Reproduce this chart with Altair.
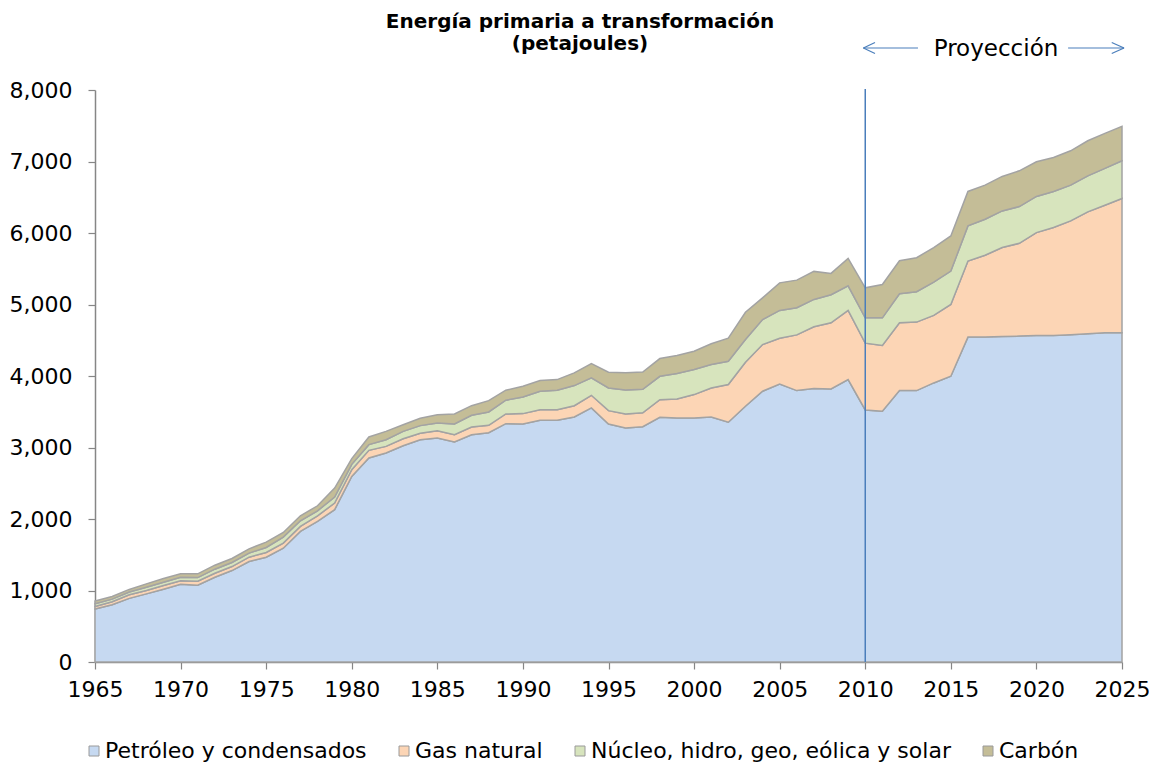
import altair as alt
import pandas as pd

# ---------------- data ----------------
years = list(range(1965, 2026))

petroleo = [
    740, 800, 890, 953, 1018, 1088, 1074, 1186, 1279, 1405,
    1466, 1592, 1826, 1966, 2130, 2596, 2854, 2923, 3025, 3109,
    3133, 3077, 3179, 3207, 3333, 3329, 3380, 3380, 3427, 3553,
    3329, 3273, 3290, 3422, 3413, 3413, 3427, 3353, 3577, 3787,
    3889, 3796, 3824, 3819, 3950, 3525, 3507, 3796, 3796, 3903,
    3997, 4544, 4544, 4553, 4558, 4567, 4567, 4577, 4591, 4605,
    4605,
]
gas_natural = [
    37, 42, 50, 46, 51, 47, 56, 56, 56, 61,
    66, 71, 70, 79, 93, 94, 106, 93, 98, 90,
    102, 102, 108, 103, 136, 145, 149, 149, 158, 177,
    186, 196, 195, 247, 266, 327, 406, 527, 616, 653,
    640, 779, 864, 925, 967, 934, 919, 948, 958, 944,
    1004, 1064, 1144, 1243, 1298, 1439, 1509, 1592, 1704, 1784,
    1878,
]
nucleo = [
    38, 37, 38, 47, 47, 51, 51, 56, 57, 57,
    70, 84, 79, 70, 85, 75, 80, 93, 103, 107,
    108, 150, 163, 187, 192, 233, 257, 272, 281, 243,
    318, 336, 330, 327, 355, 350, 327, 327, 317, 350,
    388, 379, 383, 392, 344, 354, 387, 406, 424, 467,
    467, 491, 505, 513, 514, 505, 505, 500, 505, 514,
    527,
]
carbon = [
    37, 37, 37, 47, 51, 47, 52, 56, 56, 60,
    75, 65, 70, 70, 125, 79, 108, 117, 93, 103,
    116, 140, 135, 159, 140, 150, 150, 149, 178, 201,
    220, 239, 240, 248, 252, 257, 290, 322, 382, 303,
    386, 387, 392, 299, 384, 420, 467, 462, 477, 481,
    491, 482, 476, 482, 500, 485, 476, 481, 490, 490,
    481,
]

series_names = [
    "Petróleo y condensados",
    "Gas natural",
    "Núcleo, hidro, geo, eólica y solar",
    "Carbón",
]
series_colors = ["#C6D9F1", "#FCD5B5", "#D7E4BD", "#C4BD97"]

x_ticks = list(range(1965, 2026, 5))
y_ticks = list(range(0, 8001, 1000))

# annotation ("Proyección" arrows), x in years
shaft_start = [2009.89, 2021.85]
shaft_end = [2013.08, 2025.12]
head_tip = [2009.89, 2025.12]
head_back = [2010.57, 2024.40]

title_lines = ["Energía primaria a transformación", "(petajoules)"]
proj_label = "Proyección"
proj_year = [2010]

# ---------------- build ----------------
rows = []
for i, (name, vals) in enumerate(zip(series_names, [petroleo, gas_natural, nucleo, carbon])):
    for yr, v in zip(years, vals):
        rows.append({"year": yr, "value": v, "serie": name, "orden": i})
df = pd.DataFrame(rows)

W, H = 1027, 572
FONT = "DejaVu Sans"
AXIS_COLOR = "#868686"
BLUE = "#4A7EBB"

x_scale = alt.Scale(domain=[1965, 2025], nice=False, zero=False)
y_scale = alt.Scale(domain=[0, 8000], nice=False)

area = alt.Chart(df).mark_area(
    stroke="#A3A3A3", strokeWidth=1.5, opacity=1, interpolate="linear"
).encode(
    x=alt.X(
        "year:Q",
        scale=x_scale,
        axis=alt.Axis(
            values=x_ticks, format="d", title=None, grid=False,
            labelFontSize=22, labelPadding=10, tickSize=7,
            labelFlush=False, labelOverlap=False,
        ),
    ),
    y=alt.Y(
        "value:Q",
        stack="zero",
        scale=y_scale,
        axis=alt.Axis(
            values=y_ticks, format=",d", title=None, grid=False,
            labelFontSize=22, labelPadding=16, tickSize=7,
            labelFlush=False, labelOverlap=False,
        ),
    ),
    color=alt.Color(
        "serie:N",
        scale=alt.Scale(domain=series_names, range=series_colors),
        sort=series_names,
        legend=alt.Legend(
            title=None,
            orient="none",
            direction="horizontal",
            legendX=-12,
            legendY=650,
            symbolType="square",
            symbolSize=100,
            symbolStrokeColor="#9A9A9A",
            symbolStrokeWidth=1,
            symbolOpacity=1,
            labelFont=FONT,
            labelFontSize=22,
            labelColor="#000000",
            labelOffset=0,
            labelLimit=600,
            columnPadding=26,
            padding=0,
        ),
    ),
    order=alt.Order("orden:Q"),
)

vline = alt.Chart(pd.DataFrame({"year": proj_year})).mark_rule(
    color=BLUE, strokeWidth=1.5
).encode(
    x=alt.X("year:Q", scale=x_scale),
    y=alt.value(-1),
    y2=alt.value(H),
)

shafts = alt.Chart(pd.DataFrame({"a": shaft_start, "b": shaft_end})).mark_rule(
    color=BLUE, strokeWidth=1.2
).encode(
    x=alt.X("a:Q", scale=x_scale),
    x2="b:Q",
    y=alt.value(-42),
    y2=alt.value(-42),
)

heads_up = alt.Chart(pd.DataFrame({"a": head_tip, "b": head_back})).mark_rule(
    color=BLUE, strokeWidth=1.2
).encode(
    x=alt.X("a:Q", scale=x_scale),
    x2="b:Q",
    y=alt.value(-42),
    y2=alt.value(-47.5),
)

heads_down = alt.Chart(pd.DataFrame({"a": head_tip, "b": head_back})).mark_rule(
    color=BLUE, strokeWidth=1.2
).encode(
    x=alt.X("a:Q", scale=x_scale),
    x2="b:Q",
    y=alt.value(-42),
    y2=alt.value(-36.5),
)

proj_text = alt.Chart(pd.DataFrame({"t": [proj_label]})).mark_text(
    font=FONT, fontSize=23, color="#000000", align="center", baseline="alphabetic"
).encode(
    text="t:N",
    x=alt.value(901),
    y=alt.value(-34),
)

title1 = alt.Chart(pd.DataFrame({"t": [title_lines[0]]})).mark_text(
    font=FONT, fontSize=20, fontWeight="bold", color="#000000",
    align="center", baseline="alphabetic",
).encode(text="t:N", x=alt.value(485), y=alt.value(-62))

title2 = alt.Chart(pd.DataFrame({"t": [title_lines[1]]})).mark_text(
    font=FONT, fontSize=20, fontWeight="bold", color="#000000",
    align="center", baseline="alphabetic",
).encode(text="t:N", x=alt.value(485), y=alt.value(-40))

chart = alt.layer(
    area, vline, shafts, heads_up, heads_down, proj_text, title1, title2
).properties(
    width=W,
    height=H,
    padding={"left": 87, "top": 82, "right": 27, "bottom": 101},
    autosize=alt.AutoSizeParams(type="none"),
    background="#FFFFFF",
).configure_view(
    stroke=None
).configure_axis(
    domainColor=AXIS_COLOR,
    domainWidth=1.5,
    tickColor=AXIS_COLOR,
    tickWidth=1.2,
    labelFont=FONT,
    labelColor="#000000",
)

chart.save("out.html", embed_options={"renderer": "svg", "actions": False})
